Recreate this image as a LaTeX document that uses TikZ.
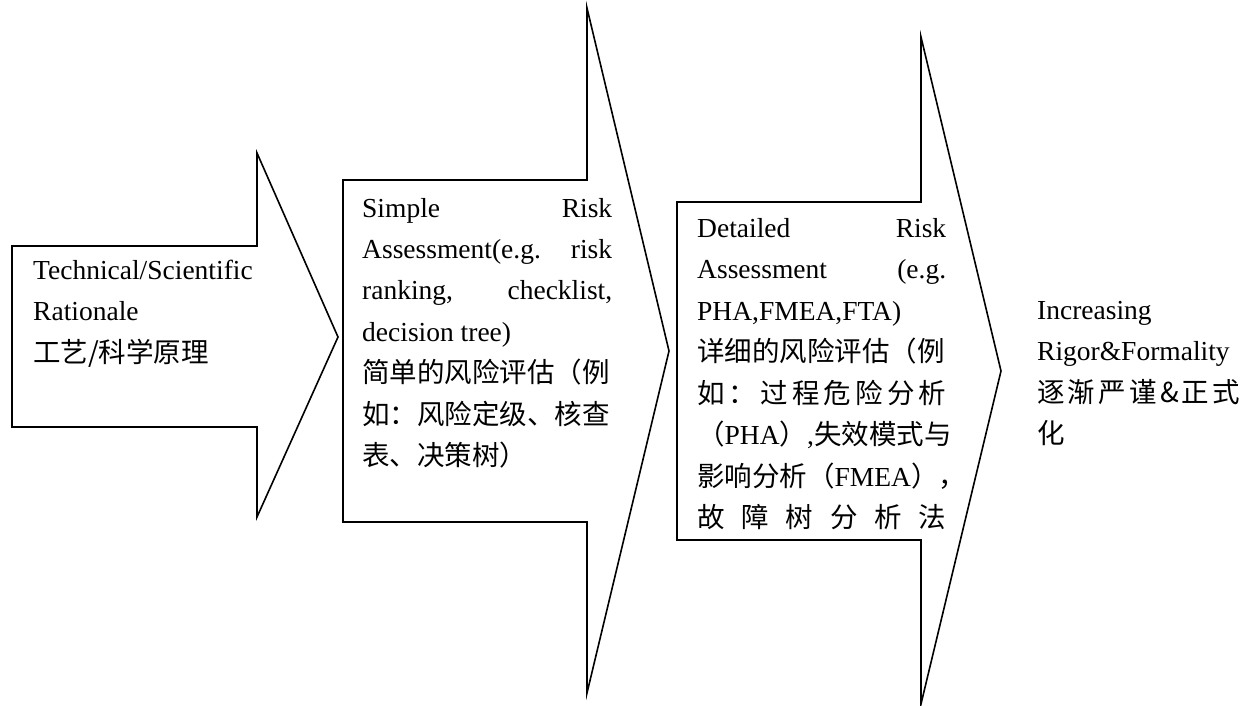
\documentclass[tikz,border=0pt]{standalone}
\usepackage{fontspec}
\setmainfont{Liberation Serif}
\newfontfamily\cjk{Noto Sans CJK SC}
\newcommand\jl[2][250pt]{\makebox[#1][s]{#2}}
\tikzset{
  blockarrow/.style={draw=black, line width=1.6pt, fill=white, line join=miter},
  txt/.style={anchor=base west, inner sep=0pt, font=\fontsize{27.5pt}{41.5pt}\selectfont},
}
\begin{document}
\begin{tikzpicture}[x=1pt,y=-1pt]
\useasboundingbox (0,0) rectangle (1259,706);
% block arrows
\draw[blockarrow] (12,246) -- (257,246) -- (257,153) -- (338,337) -- (257,517) -- (257,427) -- (12,427) -- cycle;
\draw[blockarrow] (343,180) -- (587,180) -- (587,8) -- (669,351) -- (587,693) -- (587,522) -- (343,522) -- cycle;
\draw[blockarrow] (677,202) -- (921,202) -- (921,37) -- (1001,371) -- (921,704) -- (921,540) -- (677,540) -- cycle;
% texts
\node[txt] (t1) at (33,279) {\parbox[t]{230pt}{\baselineskip=41.5pt
Technical/Scientific\\
Rationale\\
{\cjk 工艺/科学原理}}};
\node[txt] (t2) at (362,217) {\parbox[t]{250pt}{\baselineskip=41.5pt
\jl{Simple Risk}\\
\jl{Assessment(e.g. risk}\\
\jl{ranking, checklist,}\\
decision tree)\\
{\cjk 简单的风险评估（例}\\
{\cjk 如：风险定级、核查}\\
{\cjk 表、决策树）}}};
\node[txt] (t3) at (697,237) {\parbox[t]{249pt}{\baselineskip=41.5pt
\jl[249pt]{Detailed Risk}\\
\jl[249pt]{Assessment (e.g.}\\
PHA,FMEA,FTA)\\
{\cjk 详细的风险评估（例}\\
\jl[249pt]{\cjk 如\hfill ：\hfill 过\hfill 程\hfill 危\hfill 险\hfill 分\hfill 析}\\
{\cjk （}PHA{\cjk ）},{\cjk 失效模式与}\\
{\cjk 影响分析（}FMEA{\cjk ），}\\
\jl[249pt]{\cjk 故\hfill 障\hfill 树\hfill 分\hfill 析\hfill 法}}};
\node[txt] (t4) at (1037,319) {\parbox[t]{210pt}{\baselineskip=41.5pt
Increasing\\
Rigor\&Formality\\
\jl[203pt]{\cjk 逐\hfill 渐\hfill 严\hfill 谨\hfill \&\hfill 正\hfill 式}\\
{\cjk 化}}};
\end{tikzpicture}
\end{document}
